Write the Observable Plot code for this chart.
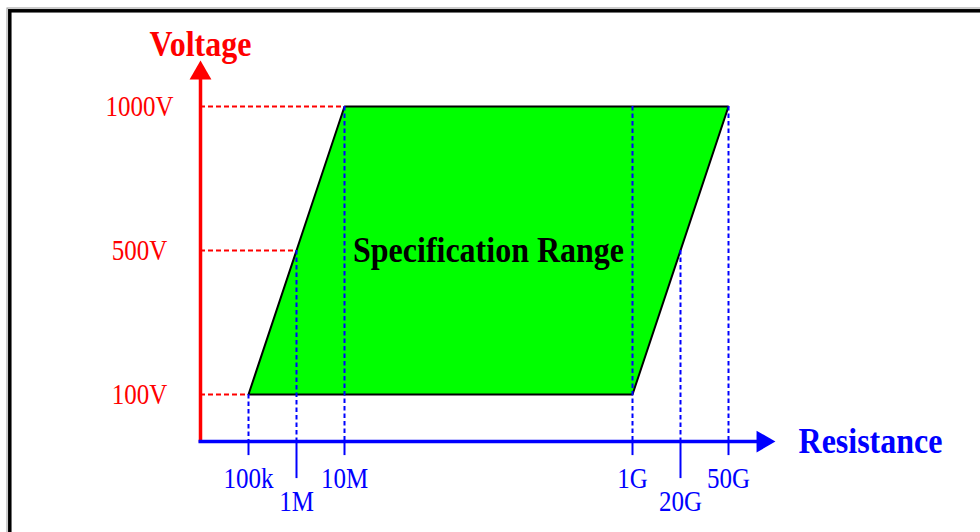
<!DOCTYPE html>
<html><head><meta charset="utf-8">
<script src="https://cdn.jsdelivr.net/npm/d3@7"></script>
<script src="https://cdn.jsdelivr.net/npm/@observablehq/plot@0.6"></script>
<style>body{margin:0;background:#fff;overflow:hidden}</style>
</head><body><div id="chart"></div>
<script>
// Resistance ticks (positions are ordinal steps along the resistance axis)
const resistanceLabels = ["100k", "1M", "10M", "1G", "20G", "50G"];
const resistancePos = [0, 1, 2, 8, 9, 10];
const resistanceLabelRow = [0, 1, 0, 0, 1, 0];
const resistanceGuideTop = [0, 1, 2, 2, 1, 2];   // voltage level where guide meets the range
// Voltage ticks
const voltageLabels = ["100V", "500V", "1000V"];
const voltageLevels = [0, 1, 2];
const voltageGuideEnd = [0, 1, 2];                // resistance position of the range's left edge
// Specification range corners
const rangeR = [0, 2, 10, 8];
const rangeV = [0, 2, 2, 0];
// Axis extents
const axisOriginR = -1, axisOriginV = -0.327;
const axisEndR = 10.98, axisEndV = 2.32;

const RED = "#ff0000", BLUE = "#0000ff", GREEN = "#00ff00";
const serif = "'Liberation Serif', 'Times New Roman', serif";

const rTicks = resistanceLabels.map((label, i) => ({label, pos: resistancePos[i], row: resistanceLabelRow[i], top: resistanceGuideTop[i]}));
const vTicks = voltageLabels.map((label, i) => ({label, level: voltageLevels[i], edge: voltageGuideEnd[i]}));
const corners = rangeR.map((r, i) => ({r, v: rangeV[i]}));
const closed = [...corners, corners[0]];
const center = {r: d3.mean(rangeR), v: d3.mean(rangeV)};

const chart = Plot.plot({
  width: 980, height: 532, margin: 0,
  x: {type: "linear", domain: [-5.1667, 15.25], axis: null},
  y: {type: "linear", domain: [-0.9583, 2.7361], axis: null},
  style: {background: "white", fontFamily: serif},
  marks: [
    Plot.frame({stroke: "#999", strokeWidth: 1, insetLeft: 6.5, insetTop: 7.5, insetRight: -20, insetBottom: -20}),
    Plot.frame({stroke: "black", strokeWidth: 3.5, insetLeft: 9.3, insetTop: 10.3, insetRight: -20, insetBottom: -20}),
    // specification range
    Plot.line(closed, {x: "r", y: "v", fill: GREEN, stroke: "black", strokeWidth: 2, curve: "linear", strokeLinejoin: "miter"}),
    // blue dashed guides
    Plot.ruleX(rTicks, {x: "pos", y1: "top", y2: () => axisOriginV, stroke: BLUE, strokeWidth: 2, strokeDasharray: "4.5,3"}),
    // red dashed guides
    Plot.ruleY(vTicks, {y: "level", x1: () => axisOriginR, x2: "edge", stroke: RED, strokeWidth: 2, strokeDasharray: "5,3"}),
    // y axis
    Plot.ruleX([axisOriginR], {x: d => d, y1: () => axisEndV, y2: () => axisOriginV, insetTop: 12, insetBottom: -1.5, stroke: RED, strokeWidth: 3.5}),
    Plot.dot([0], {x: () => axisOriginR, y: () => axisEndV, dy: 12.7, symbol: "triangle", r: 8.1, fill: RED, stroke: "none"}),
    // x axis
    Plot.ruleY([axisOriginV], {y: d => d, x1: () => axisOriginR, x2: () => axisEndR, insetLeft: -1.5, insetRight: 12, stroke: BLUE, strokeWidth: 3.5}),
    Plot.dot([0], {x: () => axisEndR, y: () => axisOriginV, dx: -12.7, rotate: 90, symbol: "triangle", r: 8.1, fill: BLUE, stroke: "none"}),
    // tick marks below x axis
    Plot.ruleX(rTicks.filter(d => d.row === 0), {x: "pos", y1: () => axisOriginV, y2: () => axisOriginV, insetBottom: -14, stroke: BLUE, strokeWidth: 2}),
    Plot.ruleX(rTicks.filter(d => d.row === 1), {x: "pos", y1: () => axisOriginV, y2: () => axisOriginV, insetBottom: -37, stroke: BLUE, strokeWidth: 2}),
    // tick labels
    Plot.text(rTicks.filter(d => d.row === 0), {x: "pos", y: () => axisOriginV, text: "label", dy: 37, fill: BLUE, fontSize: 25, fontFamily: serif}),
    Plot.text(rTicks.filter(d => d.row === 1), {x: "pos", y: () => axisOriginV, text: "label", dy: 60, fill: BLUE, fontSize: 25, fontFamily: serif}),
    Plot.text(vTicks, {x: () => axisOriginR, y: "level", text: "label", dx: -61, fill: RED, fontSize: 25, fontFamily: serif}),
    // titles
    Plot.text(["Voltage"], {x: () => axisOriginR, y: () => axisEndV, text: d => d, dy: -16, fill: RED, fontSize: 32, fontWeight: "bold", fontFamily: serif}),
    Plot.text(["Resistance"], {x: () => axisEndR, y: () => axisOriginV, text: d => d, dx: 23, textAnchor: "start", fill: BLUE, fontSize: 32, fontWeight: "bold", fontFamily: serif}),
    Plot.text(["Specification Range"], {x: () => center.r, y: () => center.v, text: d => d, fill: "black", fontSize: 32, fontWeight: "bold", fontFamily: serif})
  ]
});
// the reference lettering is slightly taller than it is wide: stretch each text vertically about its anchor
chart.querySelectorAll("text").forEach(t => {
  const tr = t.getAttribute("transform") || "";
  t.setAttribute("transform", `${tr} scale(1,1.15)`);
});
document.getElementById("chart").appendChild(chart);
</script>
</body></html>
